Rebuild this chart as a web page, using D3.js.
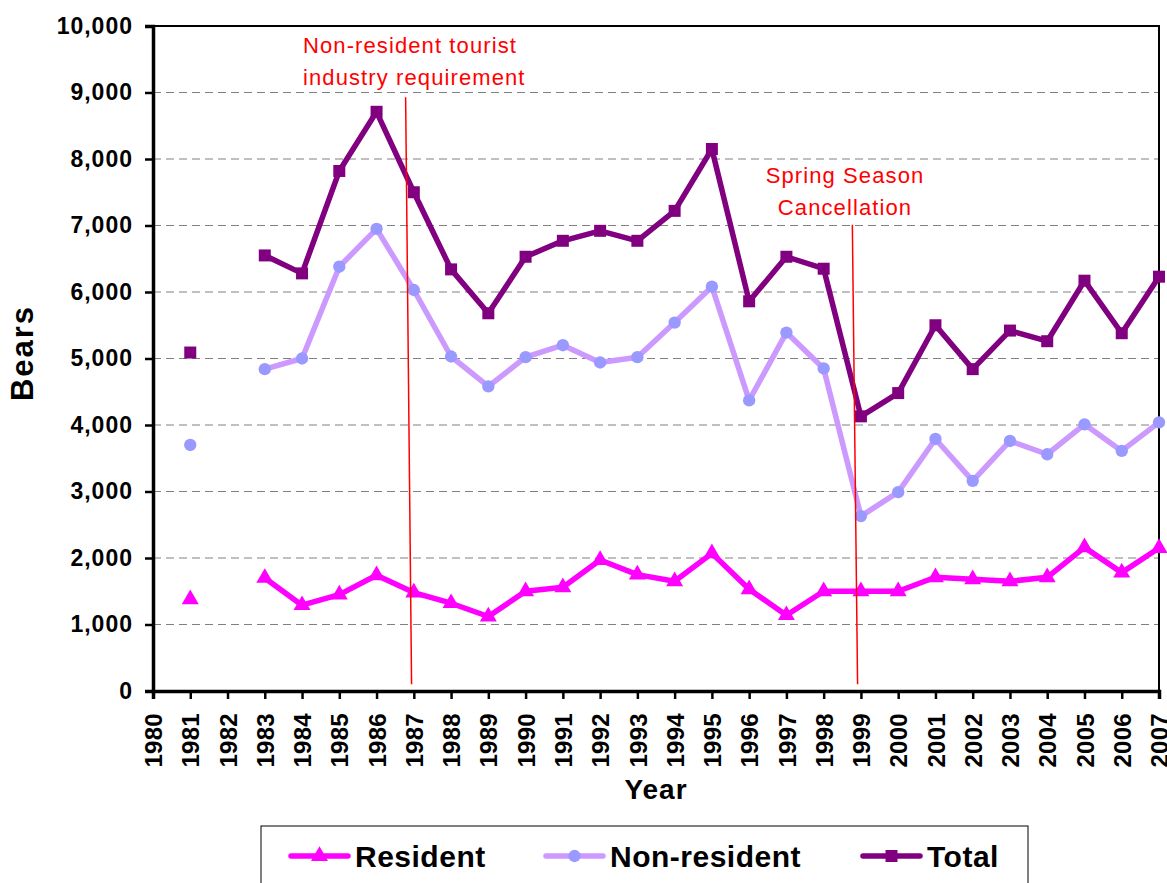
<!DOCTYPE html>
<html>
<head>
<meta charset="utf-8">
<script src="https://cdn.jsdelivr.net/npm/d3@7"></script>
<style>
  body { margin: 0; background: #fff; }
  svg { display: block; font-family: "Liberation Sans", Arial, sans-serif; }
</style>
</head>
<body>
<div id="viz"></div>
<script>
// Bears harvested per year, resident / non-resident / total
var years = [1981, 1982, 1983, 1984, 1985, 1986, 1987, 1988, 1989, 1990, 1991, 1992, 1993, 1994,
             1995, 1996, 1997, 1998, 1999, 2000, 2001, 2002, 2003, 2004, 2005, 2006, 2007];
// null = no data (1982)
var resident = [1380, null, 1700, 1290, 1450, 1740, 1480, 1320, 1120, 1500, 1560, 1970, 1750, 1650,
                2070, 1530, 1140, 1500, 1500, 1500, 1710, 1680, 1650, 1710, 2160, 1780, 2150];
var nonResident = [3700, null, 4840, 5000, 6380, 6950, 6030, 5030, 4580, 5020, 5200, 4940, 5020, 5540,
                   6080, 4370, 5390, 4850, 2630, 2990, 3790, 3160, 3760, 3560, 4010, 3610, 4040];
var total = [5090, null, 6550, 6280, 7820, 8710, 7500, 6340, 5680, 6530, 6770, 6920, 6770, 7220,
             8150, 5860, 6530, 6350, 4130, 4480, 5500, 4840, 5420, 5260, 6170, 5380, 6230];

var yTicks = [0, 1000, 2000, 3000, 4000, 5000, 6000, 7000, 8000, 9000, 10000];
var xTicks = d3.range(1980, 2008);

// annotation lines: [year at top, value at top, year at bottom, value at bottom]
var notes = [
  {line: [1986.78, 8930, 1986.94, 100], text: ["Non-resident tourist", "industry requirement"], anchor: "start", tx: 303},
  {line: [1998.77, 7010, 1998.91, 100], text: ["Spring Season", "Cancellation"], anchor: "middle", tx: 845}
];

var W = 1167, H = 883;
var pLeft = 153, pRight = 1159, pTop = 26, pBottom = 691;

var svg = d3.select("#viz").append("svg").attr("width", W).attr("height", H);

var x = d3.scaleLinear().domain([1980, 2007]).range([pLeft, pRight]);
var y = d3.scaleLinear().domain([0, 10000]).range([pBottom, pTop]);

// grid
svg.append("g").selectAll("line")
  .data(yTicks.filter(function(d) { return d > 0 && d < 10000; }))
  .enter().append("line")
  .attr("x1", pLeft).attr("x2", pRight)
  .attr("y1", function(d) { return y(d); }).attr("y2", function(d) { return y(d); })
  .attr("stroke", "#808080").attr("stroke-width", 1).attr("stroke-dasharray", "8,5");

// top / right border
svg.append("path")
  .attr("d", "M" + pLeft + "," + pTop + "H" + pRight + "V" + pBottom)
  .attr("fill", "none").attr("stroke", "#000").attr("stroke-width", 2);

// axes
var yAxis = svg.append("g").attr("transform", "translate(" + pLeft + ",0)")
  .call(d3.axisLeft(y).tickValues(yTicks).tickFormat(d3.format(",")).tickSize(8).tickPadding(12));
yAxis.select(".domain").attr("stroke-width", 3.5);
yAxis.selectAll(".tick line").attr("stroke-width", 2.5);
yAxis.selectAll("text").attr("font-size", 23).attr("font-weight", "bold")
  .attr("font-family", "'Liberation Sans', Arial, sans-serif").attr("letter-spacing", 1).attr("fill", "#000");

var xAxis = svg.append("g").attr("transform", "translate(0," + pBottom + ")")
  .call(d3.axisBottom(x).tickValues(xTicks).tickFormat(d3.format("d")).tickSize(8));
xAxis.select(".domain").attr("stroke-width", 3.5);
xAxis.selectAll(".tick line").attr("stroke-width", 2.5);
xAxis.selectAll("text")
  .attr("transform", "rotate(-90)").attr("text-anchor", "end")
  .attr("x", -22).attr("y", 0).attr("dy", "0.36em")
  .attr("font-size", 24).attr("font-weight", "bold")
  .attr("font-family", "'Liberation Sans', Arial, sans-serif").attr("letter-spacing", 0.3).attr("fill", "#000");

// axis titles
svg.append("text").attr("x", 656).attr("y", 799).attr("text-anchor", "middle")
  .attr("font-size", 28).attr("font-weight", "bold").attr("letter-spacing", 1).text("Year");
svg.append("text").attr("transform", "translate(33,353) rotate(-90)").attr("text-anchor", "middle")
  .attr("font-size", 31).attr("font-weight", "bold").attr("letter-spacing", 2).text("Bears");

// series
var series = [
  {name: "Resident", values: resident, line: "#FF00FF", marker: "#FF00FF", symbol: d3.symbolTriangle, size: 125},
  {name: "Non-resident", values: nonResident, line: "#CC99FF", marker: "#9999FF", symbol: d3.symbolCircle, size: 120},
  {name: "Total", values: total, line: "#800080", marker: "#800080", symbol: d3.symbolSquare, size: 144}
];

var line = d3.line()
  .defined(function(d) { return d[1] != null; })
  .x(function(d) { return x(d[0]); })
  .y(function(d) { return y(d[1]); });

series.forEach(function(s) {
  var pts = years.map(function(yr, i) { return [yr, s.values[i]]; });
  var g = svg.append("g");
  g.append("path").attr("d", line(pts))
    .attr("fill", "none").attr("stroke", s.line).attr("stroke-width", 5.5).attr("stroke-linejoin", "round");
  g.selectAll("path.pt").data(pts.filter(function(d) { return d[1] != null; }))
    .enter().append("path").attr("class", "pt")
    .attr("transform", function(d) { return "translate(" + x(d[0]) + "," + y(d[1]) + ")"; })
    .attr("d", d3.symbol().type(s.symbol).size(s.size))
    .attr("fill", s.marker);
});

// annotations
notes.forEach(function(n) {
  svg.append("line")
    .attr("x1", x(n.line[0])).attr("y1", y(n.line[1]))
    .attr("x2", x(n.line[2])).attr("y2", y(n.line[3]))
    .attr("stroke", "#FF0000").attr("stroke-width", 1.5);
});
var noteY = [[53, 85], [183, 215]];
notes.forEach(function(n, k) {
  n.text.forEach(function(t, j) {
    svg.append("text").attr("x", n.tx).attr("y", noteY[k][j])
      .attr("text-anchor", n.anchor).attr("font-size", 22).attr("letter-spacing", 1.1)
      .attr("fill", "#FF0000").text(t);
  });
});

// legend
var lg = svg.append("g");
lg.append("rect").attr("x", 261).attr("y", 826).attr("width", 767).attr("height", 80)
  .attr("fill", "#fff").attr("stroke", "#000").attr("stroke-width", 1);
var legendX = [291, 546, 863];
series.forEach(function(s, i) {
  var lx = legendX[i], ly = 856;
  lg.append("line").attr("x1", lx).attr("x2", lx + 57).attr("y1", ly).attr("y2", ly)
    .attr("stroke", s.line).attr("stroke-width", 5.5).attr("stroke-linecap", "round");
  lg.append("path").attr("transform", "translate(" + (lx + 28.5) + "," + ly + ")")
    .attr("d", d3.symbol().type(s.symbol).size(s.size)).attr("fill", s.marker);
  lg.append("text").attr("x", lx + 64).attr("y", 867)
    .attr("font-size", 30).attr("font-weight", "bold").attr("letter-spacing", 0.5).text(s.name);
});
</script>
</body>
</html>
